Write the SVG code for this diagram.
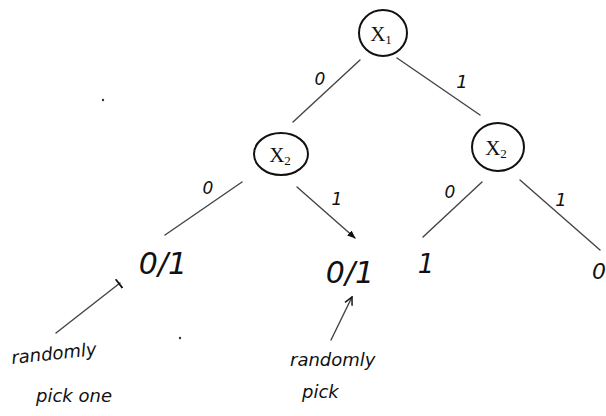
<svg xmlns="http://www.w3.org/2000/svg" width="606" height="416" viewBox="0 0 606 416">
<defs>
<style>
.node{fill:none;stroke:#111;stroke-width:2}
.edge{fill:none;stroke:#444;stroke-width:1.4;stroke-linecap:round}
.lbl{font-family:"DejaVu Sans","Liberation Sans",sans-serif;font-style:italic;fill:#111;text-anchor:middle}
.var{font-family:"Liberation Serif",serif;fill:#111;text-anchor:middle;font-size:21px}
.note{font-family:"DejaVu Sans","Liberation Sans",sans-serif;font-style:italic;fill:#111;font-size:18px}
</style>
<marker id="tri" viewBox="0 0 10 10" refX="9" refY="5" markerWidth="6" markerHeight="6" orient="auto">
<path d="M0,1 L10,5 L0,9 z" fill="#111"/>
</marker>
<marker id="chev" viewBox="0 0 10 10" refX="9" refY="5" markerWidth="7" markerHeight="7" orient="auto">
<path d="M1,1 L9,5 L1,9" fill="none" stroke="#111" stroke-width="1.5"/>
</marker>
<marker id="tee" viewBox="0 0 10 10" refX="9" refY="5" markerWidth="8" markerHeight="8" orient="auto">
<path d="M8,0 L8,10" fill="none" stroke="#111" stroke-width="1.6"/>
</marker>
</defs>
<rect width="606" height="416" fill="#fff"/>
<g id="connectors">
<line class="edge" x1="360" y1="60" x2="293" y2="122"/>
<line class="edge" x1="397" y1="58" x2="480" y2="115"/>
<line class="edge" x1="242" y1="182" x2="165" y2="235"/>
<line class="edge" x1="297" y1="187" x2="355" y2="238" marker-end="url(#tri)"/>
<line class="edge" x1="482" y1="182" x2="423" y2="237"/>
<line class="edge" x1="520" y1="180" x2="600" y2="250"/>
<text class="lbl" x="320" y="85" font-size="17">0</text>
<text class="lbl" x="462" y="88" font-size="18">1</text>
<text class="lbl" x="208" y="194" font-size="17">0</text>
<text class="lbl" x="337" y="205" font-size="17">1</text>
<text class="lbl" x="450" y="198" font-size="17">0</text>
<text class="lbl" x="561" y="206" font-size="18">1</text>
</g>
<g id="root">
<ellipse class="node" cx="383" cy="33" rx="24" ry="23"/>
<text class="var" x="381" y="41">X<tspan font-size="13" dy="3">1</tspan></text>
</g>
<g id="x2-left">
<ellipse class="node" cx="281" cy="154" rx="27" ry="21"/>
<text class="var" x="280" y="162">X<tspan font-size="13" dy="3">2</tspan></text>
</g>
<g id="x2-right">
<ellipse class="node" cx="498" cy="147" rx="26" ry="24"/>
<text class="var" x="496" y="155">X<tspan font-size="13" dy="3">2</tspan></text>
</g>
<g id="leaf-1">
<text class="lbl" x="163" y="274" font-size="30">0/1</text>
</g>
<g id="leaf-2">
<text class="lbl" x="350" y="283" font-size="30">0/1</text>
</g>
<g id="leaf-3">
<text class="lbl" x="426" y="273" font-size="26">1</text>
</g>
<g id="leaf-4">
<text class="lbl" x="599" y="279" font-size="22">0</text>
</g>
<g id="note-left">
<line class="edge" x1="56" y1="333" x2="120" y2="283" marker-end="url(#tee)"/>
<text class="note" x="12" y="364" transform="rotate(-6 12 364)">randomly</text>
<text class="note" x="36" y="402">pick one</text>
</g>
<g id="note-mid">
<line class="edge" x1="331" y1="340" x2="352" y2="297" marker-end="url(#chev)"/>
<text class="note" x="290" y="366">randomly</text>
<text class="note" x="302" y="398">pick</text>
</g>
<circle cx="103" cy="100" r="1.2" fill="#333"/>
<circle cx="180" cy="338" r="1.2" fill="#333"/>
</svg>
